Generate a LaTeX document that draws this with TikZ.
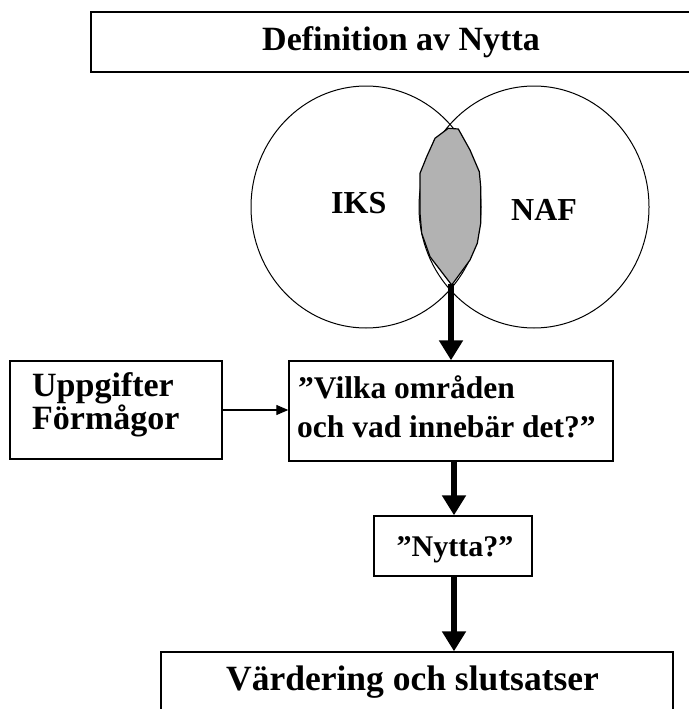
\documentclass[tikz,border=0pt]{standalone}
\usepackage{fontspec}
\setmainfont{Liberation Serif}
\usetikzlibrary{arrows.meta}
\begin{document}
\begin{tikzpicture}[x=1pt,y=-1pt,
  box/.style={draw=black,line width=1.4pt,inner sep=0pt},
  lbl/.style={inner sep=0pt,anchor=base west,font=\fontsize{34}{40}\selectfont\bfseries},
  bigarrow/.style={line width=6.5pt,-{Triangle[width=23pt,length=20pt]}},
  thinarrow/.style={line width=1.2pt,-{Triangle[width=10pt,length=12pt]}}]
\useasboundingbox (0,0) rectangle (688,709);
% top box
\node[box,line width=1.8pt,minimum width=620pt,minimum height=60pt] (top) at (401,42) {};
\node[lbl] (toptxt) at (262,51) {Definition av Nytta};
% circles
\draw[line width=1pt] (366,207) ellipse [x radius=115pt, y radius=121pt];
\draw[line width=1pt] (534,207) ellipse [x radius=115pt, y radius=121pt];
% lens
\draw[fill={rgb,255:red,178;green,178;blue,178},line width=1.2pt]
  (448.3,128.3) -- (458.3,129) -- (470,150) -- (479.3,171.7) -- (480.7,186.7) -- (480.7,223.3) -- (477.3,243.3) -- (470,260) -- (451.7,285) -- (430,256.7) -- (421.7,233.3) -- (420,213.3) -- (420,173.3) -- (426.7,156.7) -- (435,138.3) -- cycle;
\coordinate (lensbot) at (451,284);
\node[lbl,font=\fontsize{32}{36}\selectfont\bfseries] (iks) at (331,213) {IKS};
\node[lbl,font=\fontsize{32}{36}\selectfont\bfseries] (naf) at (511,220) {NAF};
% left box
\node[box,minimum width=212pt,minimum height=98pt] (upp) at (116,410) {};
\node[lbl] (upp1) at (32,396) {Uppgifter};
\node[lbl] (upp2) at (32,429) {Förmågor};
% middle box
\node[box,minimum width=324pt,minimum height=100pt] (vilka) at (451,411) {};
\node[lbl,font=\fontsize{31.5}{40}\selectfont\bfseries] (v1) at (298,398) {”Vilka områden};
\node[lbl,font=\fontsize{31.5}{40}\selectfont\bfseries] (v2) at (297,437) {och vad innebär det?”};
% nytta box
\node[box,minimum width=158pt,minimum height=60pt] (nytta) at (453,546) {};
\node[lbl,anchor=base,font=\fontsize{30}{36}\selectfont\bfseries] (nyttatxt) at (455,556) {”Nytta?”};
% bottom box
\node[box,minimum width=512pt,minimum height=100pt] (vard) at (417,702) {};
\node[lbl,font=\fontsize{35.5}{40}\selectfont\bfseries] (vardtxt) at (226,690) {Värdering och slutsatser};
% arrows
\draw[bigarrow] (lensbot) -- (lensbot |- vilka.north);
\draw[bigarrow] (vilka.south -| 454,0) -- (nytta.north -| 454,0);
\draw[bigarrow] (nytta.south -| 454,0) -- (vard.north -| 454,0);
\draw[thinarrow] (upp.east) -- (upp.east -| vilka.west);
\end{tikzpicture}
\end{document}
